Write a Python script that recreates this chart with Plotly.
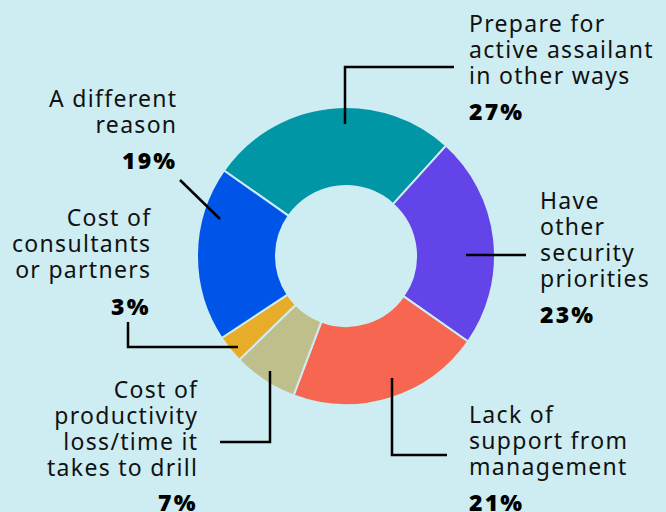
import plotly.graph_objects as go

# Survey answers, clockwise from the top-left of the ring
labels = [
    "Prepare for active assailant in other ways",
    "Have other security priorities",
    "Lack of support from management",
    "Cost of productivity loss/time it takes to drill",
    "Cost of consultants or partners",
    "A different reason",
]
values = [27, 23, 21, 7, 3, 19]
colors = ["#0096a6", "#6244e8", "#f66650", "#bfbf8c", "#e8ad28", "#0055e8"]

# Wrapped captions shown beside the ring, one entry per line
captions = [
    ["Prepare for", "active assailant", "in other ways"],
    ["Have", "other", "security", "priorities"],
    ["Lack of", "support from", "management"],
    ["Cost of", "productivity", "loss/time it", "takes to drill"],
    ["Cost of", "consultants", "or partners"],
    ["A different", "reason"],
]

W, H = 666, 512
BG = "#cdedf2"
FONT = "Noto Sans"
LINE = 26          # baseline-to-baseline spacing of caption lines
BASE_SIZE = LINE / 1.3


def px(x):
    return x / W


def py(y):
    return 1 - y / H


def styled(line, size, spacing):
    return f"<span style='font-size:{size}px;letter-spacing:{spacing}px'>{line}</span>"


cx, cy, r = 346, 256, 149

fig = go.Figure(
    go.Pie(
        labels=labels,
        values=values,
        hole=0.47,
        sort=False,
        direction="clockwise",
        rotation=-55,
        marker=dict(colors=colors, line=dict(color=BG, width=2)),
        textinfo="none",
        hoverinfo="skip",
        showlegend=False,
        domain=dict(x=[px(cx - r), px(cx + r)], y=[py(cy + r), py(cy - r)]),
    )
)

# caption placement: (x, first line y, anchor side, percent y)
placements = [
    (467, 23, "left", 111),
    (538, 200, "left", 314),
    (467, 414, "left", 502),
    (200, 389, "right", 502),
    (153, 217, "right", 306),
    (179, 98, "right", 160),
]

annotations = []
for cap, val, (x, y0, side, yp) in zip(captions, values, placements):
    centre = y0 + (len(cap) - 1) * LINE / 2
    annotations.append(dict(
        x=px(x), y=py(centre), xref="paper", yref="paper",
        text="<br>".join(styled(line, 23, 1.3) for line in cap),
        showarrow=False, align=side,
        xanchor=side, yanchor="middle",
        font=dict(family=FONT, size=BASE_SIZE, color="#111111"),
    ))
    annotations.append(dict(
        x=px(x), y=py(yp), xref="paper", yref="paper",
        text=styled(f"{val}%", 23, 2.2), showarrow=False, align=side,
        xanchor=side, yanchor="middle",
        font=dict(family=FONT, size=BASE_SIZE, color="#000000", weight=900),
    ))

# leader lines from slices to captions
leaders = [
    [(345, 124), (345, 67), (454, 67)],
    [(466, 255), (526, 255)],
    [(392, 378), (392, 455), (447, 455)],
    [(270, 371), (270, 442), (220, 442)],
    [(238, 347), (128, 347), (128, 322)],
    [(220, 219), (180, 180)],
]
shapes = []
for pts in leaders:
    path = "M " + " L ".join(f"{px(x)},{py(y)}" for x, y in pts)
    shapes.append(dict(
        type="path", path=path, xref="paper", yref="paper",
        line=dict(color="#000000", width=2.5),
    ))

fig.update_layout(
    width=W, height=H,
    margin=dict(l=0, r=0, t=0, b=0),
    paper_bgcolor=BG, plot_bgcolor=BG,
    annotations=annotations,
    shapes=shapes,
)

fig.write_html("out.html", config={"displayModeBar": False})
